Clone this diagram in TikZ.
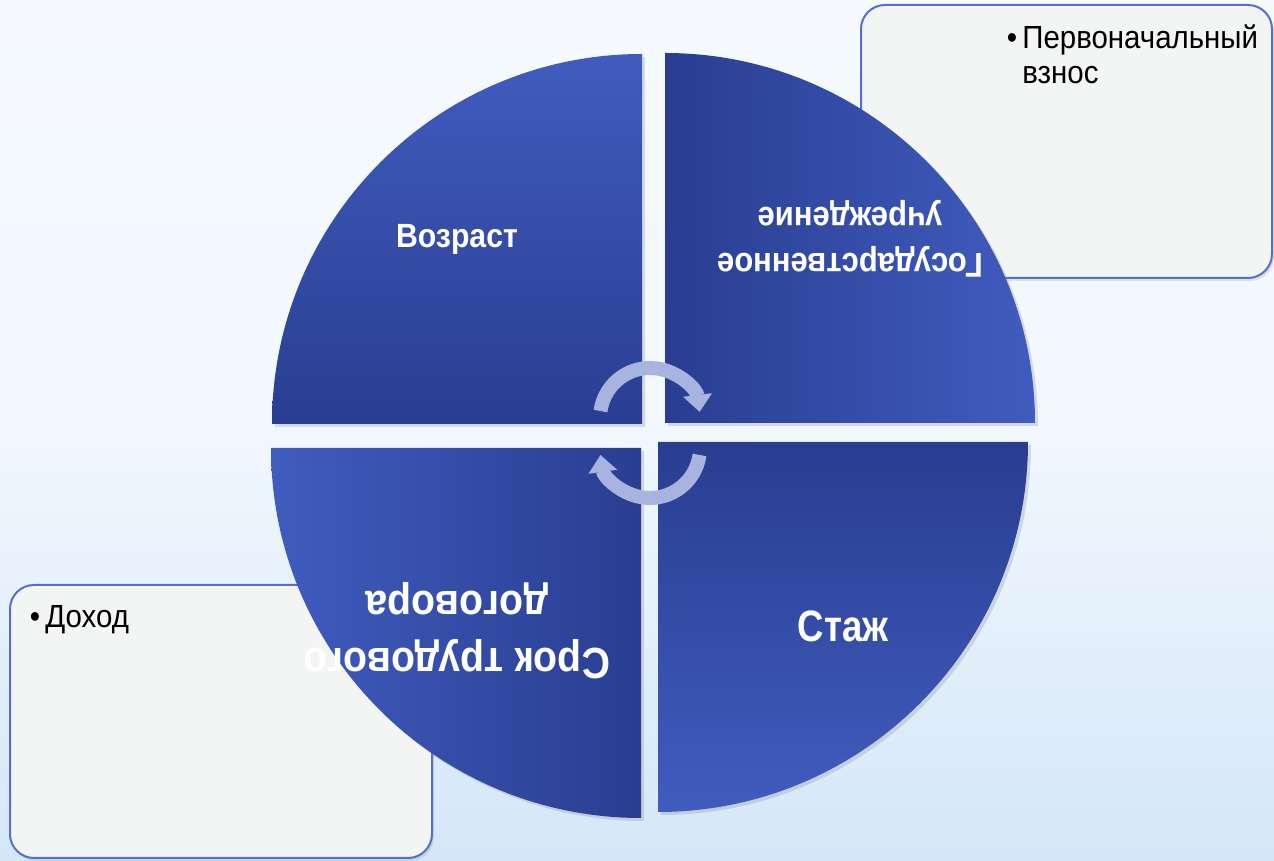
\documentclass[tikz,border=0pt]{standalone}
\usepackage{fontspec}
\setmainfont{Liberation Sans}
\newfontfamily\slimfont[FakeStretch=0.92]{Liberation Sans}
\newfontfamily\slimbold[FakeStretch=0.9]{Liberation Sans Bold}
\newfontfamily\tallbold[FakeStretch=0.83]{Liberation Sans Bold}
\usepackage{tikz}
\usetikzlibrary{arrows.meta,shadows}
\definecolor{sdark}{RGB}{41,62,145}
\definecolor{slight}{RGB}{64,92,190}
\definecolor{arrowc}{RGB}{169,179,223}
\definecolor{boxfill}{RGB}{243,244,244}
\definecolor{boxline}{RGB}{84,112,200}
\definecolor{bgtop}{RGB}{246,250,254}
\definecolor{bgbot}{RGB}{212,231,248}

\begin{document}
\begin{tikzpicture}[x=0.5pt,y=0.5pt,
  sector/.style={draw=none, drop shadow={shadow xshift=1.5pt, shadow yshift=-1.5pt, opacity=0.25}},
  note/.style={draw=boxline, line width=1pt, fill=boxfill, rounded corners=12pt, drop shadow={shadow xshift=1pt, shadow yshift=-1.5pt, opacity=0.2}},
  word/.style={text=white, align=center, inner sep=0pt},
  item/.style={anchor=north west, inner sep=0pt, align=left, font=\slimfont\fontsize{16}{17.5}\selectfont},
  cyc/.style={draw=arrowc, line width=7pt, -{Triangle[width=14pt,length=8.5pt]}}]
\useasboundingbox (0,0) rectangle (1274,861);
\fill[top color=bgtop, bottom color=bgbot, middle color=bgtop!85!bgbot] (0,0) rectangle (1274,861);

\draw[note] (861,856) rectangle (1272,583);
\draw[note] (10,276) rectangle (432,3);

\coordinate (tl) at (642,437);
\coordinate (tr) at (665,438);
\coordinate (br) at (658,419);
\coordinate (bl) at (641,413);

\path[sector, top color=slight, bottom color=sdark] (tl) -- ++(-370,0) arc[start angle=180, end angle=90, radius=370] -- cycle;
\path[sector, left color=sdark, right color=slight] (tr) -- ++(0,370) arc[start angle=90, end angle=0, radius=370] -- cycle;
\path[sector, top color=sdark, bottom color=slight] (br) -- ++(370,0) arc[start angle=0, end angle=-90, radius=370] -- cycle;
\path[sector, left color=slight, right color=sdark] (bl) -- ++(0,-370) arc[start angle=270, end angle=180, radius=370] -- cycle;

\coordinate (ta) at (650,443);
\coordinate (tb) at (650,413);
\draw[cyc] (ta) ++(172:50) arc[start angle=172, end angle=7, radius=50];
\draw[cyc] (tb) ++(-8:50) arc[start angle=-8, end angle=-172, radius=50];

\node[word, font=\slimbold\fontsize{16.8}{20}\selectfont] (age) at (457,622) {Возраст};
\node[word, rotate=180, font=\slimbold\fontsize{17.2}{23}\selectfont] (inst) at (850,622) {Государственное\\учреждение};
\node[word, font=\tallbold\fontsize{22}{26}\selectfont] (exp) at (843,235) {Стаж};
\node[word, rotate=180, font=\slimbold\fontsize{21.8}{28.5}\selectfont] (term) at (457,230) {Срок трудового\\договора};

\node[item] (fee) at (1022,837) {\llap{•\,}Первоначальный\\взнос};
\node[item] (income) at (45,256) {\llap{•\,}Доход};
\end{tikzpicture}
\end{document}
